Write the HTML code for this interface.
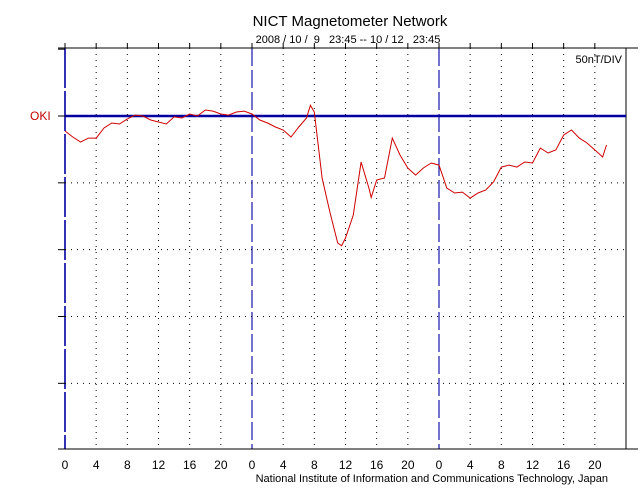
<!DOCTYPE html>
<html><head><meta charset="utf-8"><style>
body{margin:0;background:#fff;width:640px;height:500px;overflow:hidden}
svg{display:block;font-family:"Liberation Sans",sans-serif}
</style></head><body>
<svg id="chart" width="640" height="500">
<text x="350" y="26" font-size="15" text-anchor="middle">NICT Magnetometer Network</text>
<text x="348" y="43" font-size="11" text-anchor="middle" style="white-space:pre">2008 / 10 /  9   23:45 -- 10 / 12   23:45</text>
<text x="622" y="63" font-size="11" text-anchor="end">50nT/DIV</text>
<text x="30" y="120" font-size="12" fill="#c00000">OKI</text>
<text x="608" y="482" font-size="11" text-anchor="end">National Institute of Information and Communications Technology, Japan</text>
<g id="grid"></g><g id="axes"></g><g id="series"></g>
</svg>
<script>
const hours = [0,1,2,3,4,5,6,7,8,9,10,11,12,13,14,15,16,17,18,19,20,21,22,23,24,25,26,27,28,29,30,31,31.5,32,33,34,35,35.5,36,37,38,39,39.3,40,41,42,43,44,45,46,47,48,49,50,51,52,53,54,55,56,57,58,59,60,61,62,63,64,65,66,67,68,69,69.5];
const values = [-11.2,-15.7,-19.5,-16.5,-16.5,-9,-5.2,-6,-2.2,0.7,0,-3,-4.5,-6,-0.7,-1.5,1.5,0,4.5,3.7,1.5,0.7,3,3.7,1.5,-3,-5.2,-8.2,-10.5,-15.7,-8.2,-1.5,8,3,-46.4,-71.9,-95,-97,-91.3,-74.1,-34.4,-53.9,-61,-47.9,-46.4,-16.5,-29.2,-38.9,-44.2,-38.9,-35.2,-36.7,-53.9,-57.6,-56.9,-61.4,-57.6,-55.4,-49.4,-38.2,-36.7,-38.2,-34.4,-35.2,-24,-27.7,-25.4,-14.2,-10.5,-16.5,-20.2,-25.4,-30.7,-21.7];
const tickLabels = ["0","4","8","12","16","20","0","4","8","12","16","20","0","4","8","12","16","20"];
const yDivs = [2,1,0,-1,-2,-3,-4];
const X0=65,X1=626,Y0=48,Y1=449,DIV=66.83;
const xs=h=>X0+h*(X1-X0)/72;
const ys=v=>116-v/50*DIV;
const ns="http://www.w3.org/2000/svg";
function mk(p,t,a){const e=document.createElementNS(ns,t);for(const k in a)e.setAttribute(k,a[k]);p.appendChild(e);return e;}
const grid=document.getElementById('grid'),axes=document.getElementById('axes'),series=document.getElementById('series');
tickLabels.forEach((lab,i)=>{const x=xs(i*4);
 if(i%6!==0){const l=mk(grid,'line',{x1:x,y1:Y0,x2:x,y2:Y1,stroke:'#000','stroke-width':1,'stroke-dasharray':'1 5'});
 
 }
 else{const l=mk(grid,'line',{x1:x,y1:Y0,x2:x,y2:Y1,stroke:'#0000a0','stroke-width':i===0?1.6:1.1,'stroke-dasharray':i===0?'40 3':'18 4'});
 
 }
 mk(axes,'line',{x1:x,y1:Y0-5,x2:x,y2:Y0,stroke:'#000'});
 const t=mk(axes,'text',{x:x,y:469,'font-size':12,'text-anchor':'middle'});t.textContent=lab;
 
 
});
yDivs.forEach(d=>{const y=ys(d*50);
 if(d<0){const l=mk(grid,'line',{x1:X0,y1:y,x2:X1,y2:y,stroke:'#000','stroke-width':1,'stroke-dasharray':'1 5'});
 
 }
 mk(axes,'line',{x1:X0-7,y1:y,x2:X0,y2:y,stroke:'#000'});
});
mk(axes,'line',{x1:X0-7,y1:Y0,x2:X1+12,y2:Y0,stroke:'#000'});
mk(axes,'line',{x1:X0-7,y1:Y1,x2:X1+12,y2:Y1,stroke:'#000'});
mk(axes,'line',{x1:X1,y1:Y0,x2:X1,y2:Y1,stroke:'#000'});
const base=mk(axes,'line',{x1:X0,y1:ys(0),x2:X1,y2:ys(0),stroke:'#0000a0','stroke-width':2.5});


const pts=hours.map((h,i)=>xs(h).toFixed(1)+','+ys(values[i]).toFixed(1)).join(' ');
const pl=mk(series,'polyline',{points:pts,fill:'none',stroke:'#d00000','stroke-width':1});


</script>
</body></html>
